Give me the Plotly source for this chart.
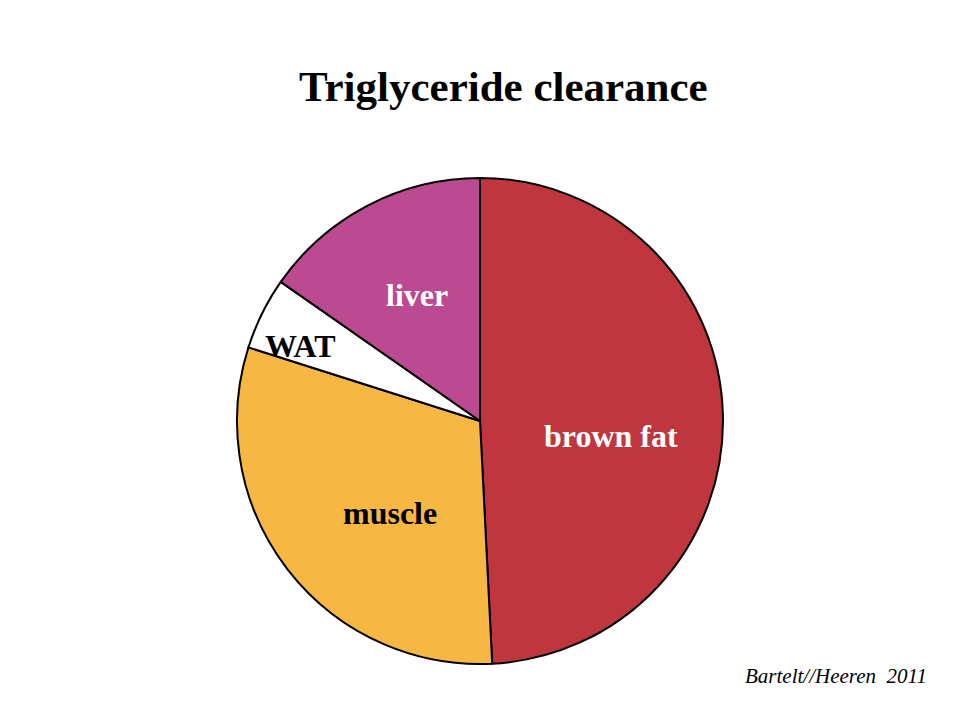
import plotly.graph_objects as go

labels = ["brown fat", "muscle", "WAT", "liver"]
values = [49.2, 30.7, 4.8, 15.3]
colors = ["#C0363F", "#F6B843", "#FFFFFF", "#BB4A90"]
label_colors = ["white", "black", "black", "white"]
# label positions in screenshot pixel coords (x, y from top)
label_pos = [(611, 436), (390, 513), (300, 346), (417, 295)]

W, H = 960, 720
OFF = 8  # page body margin offset
cx, cy, r = 480 - OFF, 421 - OFF, 243


def px(x):
    return (x - OFF) / W


def py(y):
    return 1 - (y - OFF) / H


fig = go.Figure(go.Pie(
    labels=labels, values=values, sort=False, direction="clockwise", rotation=0,
    marker=dict(colors=colors, line=dict(color="black", width=2)),
    textinfo="none", hoverinfo="label+percent", showlegend=False,
    domain=dict(x=[(cx - r) / W, (cx + r) / W], y=[(H - cy - r) / H, (H - cy + r) / H]),
))

annotations = []
for lab, col, (x, y) in zip(labels, label_colors, label_pos):
    annotations.append(dict(
        text=f"<b>{lab}</b>", x=px(x), y=py(y), xref="paper", yref="paper",
        showarrow=False, font=dict(family="Liberation Serif", size=32, color=col),
        xanchor="center", yanchor="middle"))

annotations.append(dict(
    text="<b>Triglyceride clearance</b>", x=px(503), y=py(86), xref="paper", yref="paper",
    showarrow=False, font=dict(family="Liberation Serif", size=43, color="black"),
    xanchor="center", yanchor="middle"))
annotations.append(dict(
    text="<i>Bartelt//Heeren  2011</i>", x=px(836), y=py(676), xref="paper", yref="paper",
    showarrow=False, font=dict(family="Liberation Serif", size=21, color="black"),
    xanchor="center", yanchor="middle"))

fig.update_layout(
    width=W, height=H, margin=dict(l=0, r=0, t=0, b=0),
    paper_bgcolor="white", plot_bgcolor="white", annotations=annotations,
)
fig.write_html("out.html")
